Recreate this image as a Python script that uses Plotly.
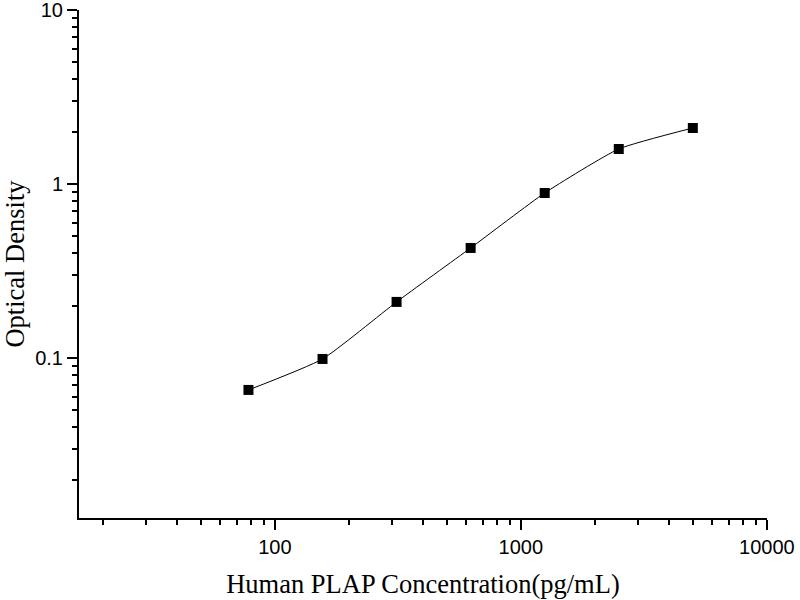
import plotly.graph_objects as go

# Standard curve points (concentration vs OD)
concentration = [78.125, 156.25, 312.5, 625, 1250, 2500, 5000]
optical_density = [0.0655, 0.0987, 0.210, 0.429, 0.888, 1.59, 2.10]

x_tickvals = [100, 1000, 10000]
x_ticktext = ["100", "1000", "10000"]
y_tickvals = [0.1, 1, 10]
y_ticktext = ["0.1", "1", "10"]

# minor ticks at 2..9 of each decade
x_minor = [m * d for d in (10, 100, 1000) for m in range(2, 10)]
y_minor = [m * d for d in (0.01, 0.1, 1) for m in range(2, 10)]

fig = go.Figure()

# fitted curve
fig.add_trace(go.Scatter(
    x=concentration,
    y=optical_density,
    mode="lines",
    line=dict(color="black", width=1, shape="spline", smoothing=0.5),
    hoverinfo="skip",
    showlegend=False
))

# measured points
fig.add_trace(go.Scatter(
    x=concentration,
    y=optical_density,
    mode="markers",
    marker=dict(symbol="square", size=10, color="black"),
    showlegend=False
))

axis_common = dict(
    type="log",
    showgrid=False,
    zeroline=False,
    showline=True,
    linecolor="black",
    linewidth=2,
    ticks="outside",
    ticklen=10,
    tickwidth=2,
    tickcolor="black",
    tickfont=dict(family="Liberation Sans, Arial", size=20, color="black"),
    ticklabeloverflow="allow",
    automargin=False,
    mirror=False
)

title_font = dict(family="Liberation Serif, Times New Roman", size=26.5, color="black")

fig.update_xaxes(
    **axis_common,
    range=[1.204, 4.0005],
    tickvals=x_tickvals,
    ticktext=x_ticktext,
    minor=dict(tickmode="array", tickvals=x_minor, ticks="outside", ticklen=5,
               tickwidth=2, tickcolor="black", showgrid=False),
    title=dict(text="Human PLAP Concentration(pg/mL)", font=title_font, standoff=17)
)
fig.update_yaxes(
    **axis_common,
    range=[-1.92, 1.0005],
    tickvals=y_tickvals,
    ticktext=y_ticktext,
    minor=dict(tickmode="array", tickvals=y_minor, ticks="outside", ticklen=5,
               tickwidth=2, tickcolor="black", showgrid=False),
    title=dict(text="Optical Density", font=title_font, standoff=8)
)

fig.update_layout(
    width=800,
    height=600,
    plot_bgcolor="white",
    paper_bgcolor="white",
    margin=dict(l=79, r=33, t=10, b=82)
)

# page body margin off so the 800x600 figure sits at the window origin
fig.write_html("out.html", config={"displayModeBar": False},
               post_script="document.body.style.margin='0';")
